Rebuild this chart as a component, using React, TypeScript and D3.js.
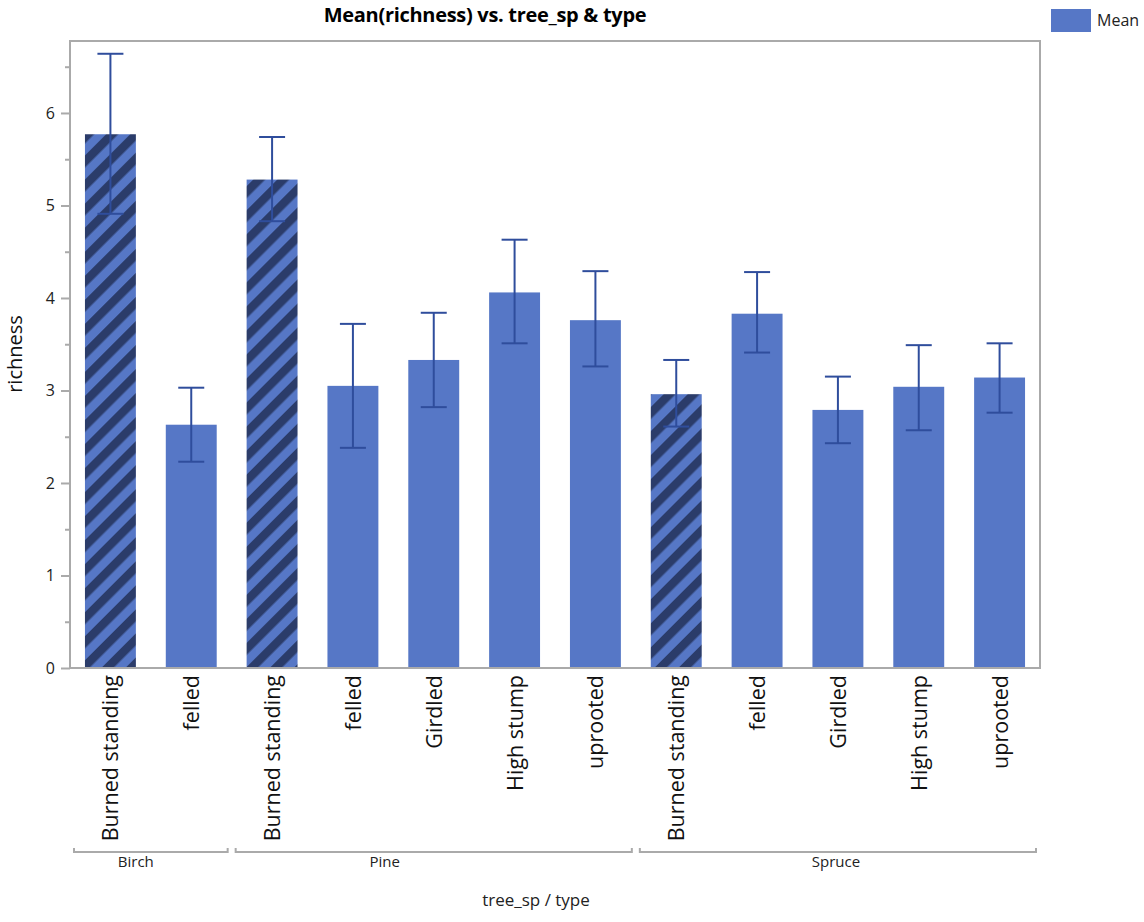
import React, { useEffect, useRef } from 'react';
import * as d3 from 'd3';

const species = ['Birch', 'Birch', 'Pine', 'Pine', 'Pine', 'Pine', 'Pine', 'Spruce', 'Spruce', 'Spruce', 'Spruce', 'Spruce'];
const types = ['Burned standing', 'felled', 'Burned standing', 'felled', 'Girdled', 'High stump', 'uprooted', 'Burned standing', 'felled', 'Girdled', 'High stump', 'uprooted'];
const means = [5.77, 2.63, 5.28, 3.05, 3.33, 4.06, 3.76, 2.96, 3.83, 2.79, 3.04, 3.14];
const upper = [6.64, 3.03, 5.74, 3.72, 3.84, 4.63, 4.29, 3.33, 4.28, 3.15, 3.49, 3.51];
const lower = [4.91, 2.23, 4.83, 2.38, 2.82, 3.51, 3.26, 2.61, 3.41, 2.43, 2.57, 2.76];
const yTicks = [0, 1, 2, 3, 4, 5, 6];

const font = '"Open Sans", "Noto Sans", sans-serif';
// group label shift from bracket centre (the original app places them off centre)
const groupShift: Record<string, number> = { Birch: -15, Pine: -49, Spruce: -2 };

export default function App() {
    const ref = useRef<SVGSVGElement>(null);

    useEffect(() => {
        const svg = d3.select(ref.current);
        svg.selectAll('*').remove();

        const left = 70, right = 1040, top = 41, bottom = 668;
        const keys = types.map((t, i) => i + '');

        const x = d3.scaleBand().domain(keys).range([left, right]).paddingInner(0.37).paddingOuter(0.185);
        const y = d3.scaleLinear().domain([0, 6.778]).range([bottom, top]);

        const defs = svg.append('defs');
        const pat = defs.append('pattern')
            .attr('id', 'hatch')
            .attr('patternUnits', 'userSpaceOnUse')
            .attr('width', 17).attr('height', 17)
            .attr('patternTransform', 'rotate(45)');
        pat.append('rect').attr('width', 17).attr('height', 17).attr('fill', '#5677c6');
        pat.append('rect').attr('width', 8.5).attr('height', 17).attr('fill', '#2b3c6a');

        // title
        svg.append('text').attr('x', 485).attr('y', 22).attr('text-anchor', 'middle')
            .attr('font-family', font).attr('font-weight', 'bold').attr('font-size', 20)
            .attr('letter-spacing', -0.3)
            .text('Mean(richness) vs. tree_sp & type');

        // legend
        svg.append('rect').attr('x', 1051).attr('y', 9).attr('width', 40).attr('height', 23).attr('fill', '#5677c6');
        svg.append('text').attr('x', 1097).attr('y', 26).attr('font-family', font).attr('font-size', 16)
            .attr('fill', '#222').text('Mean');

        // bars
        svg.append('g').selectAll('rect').data(means).enter().append('rect')
            .attr('x', (d, i) => x(keys[i]))
            .attr('y', d => y(d))
            .attr('width', x.bandwidth())
            .attr('height', d => y(0) - y(d))
            .attr('fill', (d, i) => types[i] === 'Burned standing' ? 'url(#hatch)' : '#5677c6');

        // error bars
        const eb = svg.append('g').attr('stroke', '#2f4d9c').attr('stroke-width', 2);
        means.forEach((d, i) => {
            const cx = x(keys[i]) + x.bandwidth() / 2;
            eb.append('line').attr('x1', cx).attr('x2', cx).attr('y1', y(upper[i])).attr('y2', y(lower[i]));
            eb.append('line').attr('x1', cx - 13).attr('x2', cx + 13).attr('y1', y(upper[i])).attr('y2', y(upper[i]));
            eb.append('line').attr('x1', cx - 13).attr('x2', cx + 13).attr('y1', y(lower[i])).attr('y2', y(lower[i]));
        });

        // frame
        svg.append('rect').attr('x', left).attr('y', top).attr('width', right - left).attr('height', bottom - top)
            .attr('fill', 'none').attr('stroke', '#aaa').attr('stroke-width', 2);

        // y axis
        const ya = svg.append('g').attr('transform', `translate(${left},0)`)
            .call(d3.axisLeft(y).tickValues(yTicks).tickSize(9).tickFormat(d3.format('d')));
        ya.select('.domain').remove();
        ya.selectAll('line').attr('stroke', '#aaa').attr('stroke-width', 2);
        ya.selectAll('text').attr('font-family', font).attr('font-size', 16).attr('fill', '#222').attr('x', -15);
        const ym = svg.append('g').attr('transform', `translate(${left},0)`)
            .call(d3.axisLeft(y).tickValues(d3.range(0.5, 6.6, 1)).tickSize(5).tickFormat(() => ''));
        ym.select('.domain').remove();
        ym.selectAll('line').attr('stroke', '#aaa').attr('stroke-width', 2);

        svg.append('text').attr('transform', 'translate(22,354) rotate(-90)').attr('text-anchor', 'middle')
            .attr('font-family', font).attr('font-size', 20).attr('fill', '#111').text('richness');

        // x labels
        svg.append('g').selectAll('text').data(types).enter().append('text')
            .attr('transform', (d, i) => `translate(${x(keys[i]) + x.bandwidth() / 2 + 8},675) rotate(-90)`)
            .attr('text-anchor', 'end')
            .attr('font-family', font).attr('font-size', 21.5).attr('fill', '#111')
            .text(d => d);

        // group brackets
        const groups = Array.from(new Set(species));
        const gb = svg.append('g');
        groups.forEach(g => {
            const idx = species.map((s, i) => s === g ? i : -1).filter(i => i >= 0);
            const x0 = x(keys[idx[0]]) - x.step() * x.paddingInner() / 2 + 4;
            const x1 = x(keys[idx[idx.length - 1]]) + x.bandwidth() + x.step() * x.paddingInner() / 2 - 4;
            gb.append('path').attr('d', `M${x0},848 V852 H${x1} V848`).attr('fill', 'none')
                .attr('stroke', '#aaa').attr('stroke-width', 2);
            gb.append('text').attr('x', (x0 + x1) / 2 + groupShift[g]).attr('y', 867).attr('text-anchor', 'middle')
                .attr('font-family', font).attr('font-size', 15).attr('fill', '#222').text(g);
        });

        svg.append('text').attr('x', 536).attr('y', 906).attr('text-anchor', 'middle')
            .attr('font-family', font).attr('font-size', 17).attr('fill', '#222').text('tree_sp / type');
    }, []);

    return <svg ref={ref} width={1144} height={922} style={{ position: 'absolute', left: 0, top: 0 }}></svg>;
}
